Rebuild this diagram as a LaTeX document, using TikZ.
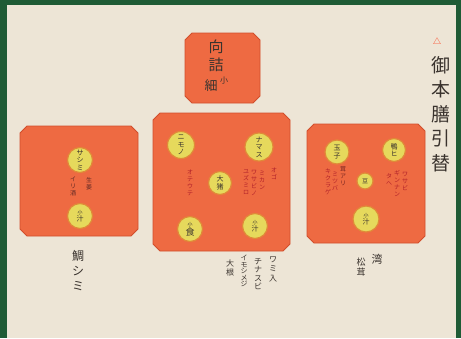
\documentclass[tikz,border=0pt]{standalone}
\usepackage{fontspec}
\newfontfamily\jp{Noto Sans CJK JP}

\definecolor{frame}{HTML}{1F5B35}
\definecolor{paper}{HTML}{EDE5D6}
\definecolor{lacquer}{HTML}{EE6A42}
\definecolor{lacquerrim}{HTML}{D14E2C}
\definecolor{bowlfill}{HTML}{E6D95C}
\definecolor{bowlrim}{HTML}{E08A38}
\definecolor{ink}{HTML}{3A332E}
\definecolor{redink}{HTML}{B0202A}

\tikzset{
  tray/.style={fill=lacquer, draw=lacquerrim, line width=0.8pt, line join=round},
  bowl/.style={circle, fill=bowlfill, draw=bowlrim, line width=1.2pt, inner sep=0pt,
    align=center, text=ink, font=\jp\fontsize{7}{7.5}\selectfont},
  note/.style={font=\jp\fontsize{6}{7}\selectfont, text=redink, align=center, inner sep=0pt},
  caption/.style={font=\jp\fontsize{9}{10.5}\selectfont, text=ink, align=center, inner sep=0pt},
  title/.style={font=\jp\fontsize{19}{24.5}\selectfont, text=ink, align=center, inner sep=0pt}
}

% tray with cut corners: left, top, right, bottom
\newcommand{\traybox}[4]{%
  \draw[tray] ({#1+7},#2) -- ({#3-7},#2) -- (#3,{#2+7}) -- (#3,{#4-7})
    -- ({#3-7},#4) -- ({#1+7},#4) -- (#1,{#4-7}) -- (#1,{#2+7}) -- cycle;}

\begin{document}
\begin{tikzpicture}[x=1pt, y=-1pt]
  \useasboundingbox (0,0) rectangle (461,338);

  % Mount and paper
  \fill[frame] (0,0) rectangle (461,338);
  \fill[paper] (7,5) rectangle (456,338);

  % Title
  \node[text=red!70!orange, font=\jp\fontsize{8}{8}\selectfont, inner sep=0pt] (mark) at (437,41) {△};
  \node[title] (title) at (441,114) {御\\本\\膳\\引\\替};

  % Trays
  \traybox{185}{33}{260}{103}
  \traybox{20}{126}{138}{236}
  \traybox{153}{113}{290}{251}
  \traybox{307}{124}{425}{243}

  % Small tray in front
  \node[caption, font=\jp\fontsize{15}{18}\selectfont] (muko) at (216,56) {向\\詰};
  \node[caption, font=\jp\fontsize{13}{13}\selectfont] (hoso) at (211,86) {細};
  \node[caption, font=\jp\fontsize{8}{8}\selectfont] (ko) at (224,81) {小};

  % Left tray
  \node[bowl, minimum size=25pt] (sashimi) at (80,160) {サ\\シ\\ミ};
  \node[bowl, minimum size=25pt] (soupL) at (80,216) {{\fontsize{5}{5}\selectfont 小}\\汁};
  \node[note, text=ink!80!red] (ginger) at (89,184) {生\\姜};
  \node[note, text=ink!80!red] (irizake) at (73,186) {イ\\リ\\酒};

  % Main tray
  \node[bowl, minimum size=27pt] (nimono) at (181,145) {ニ\\モ\\ノ};
  \node[bowl, minimum size=28pt] (namasu) at (259,147) {ナ\\マ\\ス};
  \node[bowl, minimum size=23pt] (choko) at (220,183) {大\\猪};
  \node[bowl, minimum size=25pt, font=\jp\fontsize{9}{9}\selectfont] (meshi) at (190,229) {{\fontsize{5}{5}\selectfont 小}\\食};
  \node[bowl, minimum size=25pt] (soupC) at (255,226) {{\fontsize{5}{5}\selectfont 小}\\汁};
  \node[note] (nA) at (190,183) {オ\\テ\\ウ\\テ};
  \node[note] (nB) at (246,182) {ユ\\ズ\\ミ\\ロ};
  \node[note] (nC) at (254,183) {ワ\\サ\\ビ\\ノ};
  \node[note] (nD) at (262,180) {ミ\\カ\\ン};
  \node[note] (nE) at (274,174) {オ\\ゴ};

  % Right tray
  \node[bowl, minimum size=24pt] (egg) at (337,152) {玉\\子};
  \node[bowl, minimum size=23pt] (duck) at (394,150) {鴨\\ヒ};
  \node[bowl, minimum size=16pt, font=\jp\fontsize{6}{6}\selectfont] (bean) at (365,181) {豆};
  \node[bowl, minimum size=26pt] (soupR) at (366,219) {{\fontsize{5}{5}\selectfont 小}\\汁};
  \node[note] (nF) at (328,182) {キ\\ク\\ラ\\ゲ};
  \node[note] (nG) at (335,181) {ミ\\ツ\\バ};
  \node[note, text=ink!70!red] (nH) at (343,176) {茸\\ア\\リ};
  \node[note] (nI) at (389,180) {タ\\ヘ};
  \node[note] (nJ) at (397,183) {ギ\\ン\\ナ\\ン};
  \node[note] (nK) at (405,181) {ワ\\サ\\ビ};

  % Captions under the trays
  \node[caption, font=\jp\fontsize{12}{15}\selectfont] (tai) at (78,271) {鯛\\シ\\ミ};
  \node[caption, font=\jp\fontsize{8}{9.5}\selectfont] (daikon) at (230,268) {大\\根};
  \node[caption, font=\jp\fontsize{7}{6.5}\selectfont] (imo) at (244,271) {イ\\モ\\シ\\メ\\ジ};
  \node[caption, font=\jp\fontsize{8}{8.5}\selectfont] (nasu) at (258,274) {チ\\ナ\\ス\\ビ};
  \node[caption, font=\jp\fontsize{8}{9.5}\selectfont] (wami) at (273,269) {ワ\\ミ\\入};
  \node[caption, font=\jp\fontsize{9}{10.5}\selectfont] (matsu) at (361,267) {松\\茸};
  \node[caption, font=\jp\fontsize{11}{11}\selectfont] (wan) at (377,259) {湾};
\end{tikzpicture}
\end{document}
